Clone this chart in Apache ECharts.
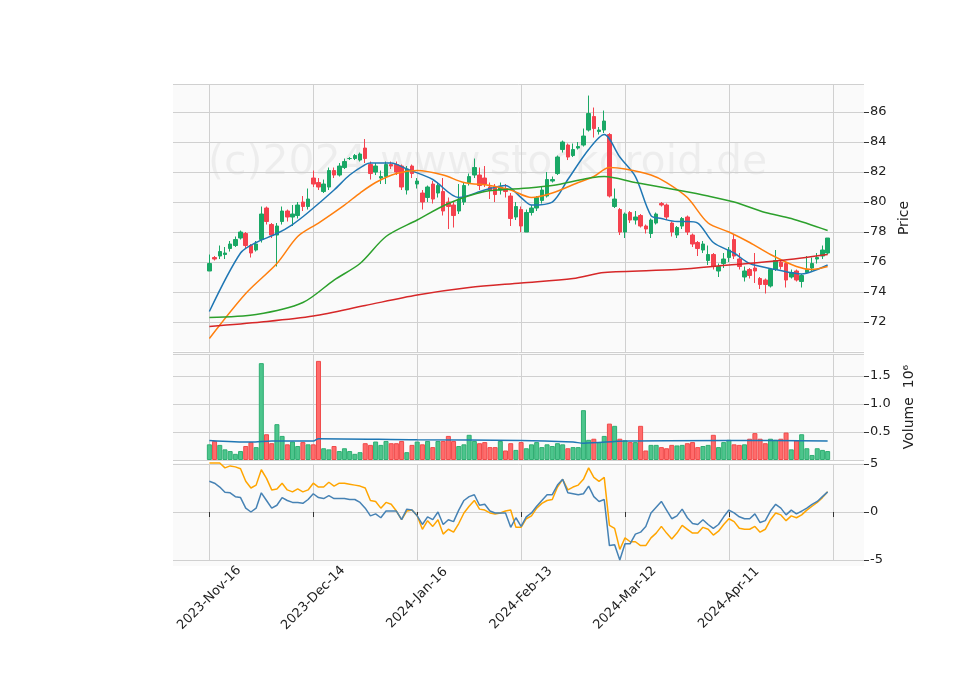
<!DOCTYPE html>
<html>
<head>
<meta charset="utf-8">
<script src="https://cdn.jsdelivr.net/npm/echarts@6/dist/echarts.min.js"></script>
<style>html,body{margin:0;padding:0;background:#fff}#chart{width:960px;height:690px}</style>
</head>
<body>
<div id="chart"></div>
<script>
// daily bars, index 0 = 2023-Nov-16
var opens = [75.4,76.3,76.4,76.5,76.9,77.1,77.6,77.9,77.1,76.8,77.5,79.6,78.5,77.8,78.7,79.4,79.0,79.1,80.0,79.7,
  81.6,81.3,80.7,81.0,82.1,81.8,82.3,82.9,82.9,82.8,83.6,82.5,82.0,81.6,81.7,82.5,82.5,82.4,80.8,82.4,
  81.2,80.6,80.3,81.2,80.6,80.7,80.0,79.8,79.4,80.0,81.3,81.8,81.8,81.6,81.0,81.0,80.8,80.9,80.4,79.0,
  79.5,78.0,79.3,79.6,80.1,80.4,81.4,81.9,83.5,83.8,83.1,83.6,83.8,84.8,85.7,84.7,84.8,84.5,79.7,79.5,
  78.0,79.3,78.8,79.1,78.4,77.9,78.6,79.9,79.8,78.6,77.8,78.4,79.0,77.8,77.3,76.8,76.1,76.5,75.4,75.9,
  76.3,77.5,76.2,75.0,75.5,75.6,74.9,74.8,74.4,75.5,76.0,75.9,75.0,75.4,74.7,75.3,75.6,76.2,76.4,76.6];
var closes = [75.9,76.2,76.7,76.6,77.2,77.5,78.0,77.1,76.6,77.2,79.2,78.7,77.8,78.4,79.4,79.0,79.2,79.8,79.7,80.2,
  81.2,81.0,81.2,82.1,81.8,82.4,82.7,82.9,83.1,83.2,82.9,81.9,82.4,81.7,82.5,82.4,82.0,81.0,82.2,81.9,
  81.4,80.0,81.0,80.2,81.1,79.4,79.7,79.1,80.2,81.1,81.7,82.3,81.1,81.2,80.8,80.5,81.0,80.7,78.9,79.7,
  78.4,79.3,79.6,80.3,80.8,81.5,81.5,83.0,84.0,83.0,83.5,83.7,84.4,85.9,84.9,84.8,85.4,80.4,80.2,78.0,
  79.2,78.8,79.0,78.4,78.2,78.8,79.2,79.8,79.0,78.0,78.3,78.9,78.0,77.2,76.9,77.2,76.5,75.7,75.7,76.2,
  76.8,76.4,75.7,75.4,75.1,75.4,74.5,74.5,75.5,76.1,75.7,74.8,75.3,74.8,75.1,75.5,75.9,76.3,76.8,77.6];
var highs = [76.5,76.4,77.1,77.0,77.4,77.7,78.1,78.0,77.2,77.4,79.7,79.7,78.6,78.6,79.7,79.5,79.8,80.0,80.4,80.9,
  82.1,81.6,81.5,82.3,82.3,82.6,82.9,83.0,83.2,83.3,84.2,82.7,82.6,82.1,82.7,82.7,82.7,82.5,82.4,82.5,
  81.6,80.8,81.1,81.4,81.3,81.6,80.3,80.0,81.2,81.3,81.9,82.9,82.3,82.4,81.3,81.2,81.3,81.2,80.6,80.0,
  79.7,79.5,79.8,80.4,81.0,82.0,81.7,83.1,84.1,83.9,83.9,84.0,84.9,87.1,86.3,85.0,86.1,84.6,80.9,79.6,
  79.3,79.4,79.4,79.2,78.5,78.9,79.3,80.0,79.9,78.7,78.4,79.0,79.1,77.9,77.4,77.4,77.1,76.6,75.9,76.6,
  77.0,77.8,76.6,75.7,75.6,76.6,75.0,74.9,75.6,76.8,76.1,76.0,75.5,75.5,75.2,76.4,76.3,76.6,77.1,77.6];
var lows = [75.4,76.1,76.2,76.2,76.7,77.0,77.5,76.9,76.3,76.7,77.3,78.5,77.6,75.7,78.5,78.7,78.4,78.9,79.4,79.5,
  81.0,80.8,80.6,80.8,81.6,81.7,82.2,82.8,82.8,82.7,82.6,81.5,81.8,81.2,81.2,82.2,81.8,80.8,80.5,81.6,
  80.9,79.5,80.0,79.9,80.3,79.1,78.2,78.3,79.2,79.8,81.1,81.6,80.8,81.0,80.2,80.0,80.5,80.3,78.4,78.8,
  78.0,78.0,79.1,79.4,79.9,80.3,81.3,81.8,83.3,82.8,83.0,83.5,83.7,84.7,84.3,84.5,84.6,80.3,79.6,77.8,
  77.6,78.6,78.5,78.3,77.9,77.6,78.5,79.7,78.8,77.7,77.6,78.2,77.8,77.0,76.4,76.6,75.8,75.5,75.0,75.6,
  76.0,76.2,75.5,74.7,74.9,74.6,74.2,73.9,74.3,75.4,75.5,74.3,74.9,74.7,74.3,75.2,75.4,75.9,76.2,76.5];
var volumes = [0.28,0.34,0.27,0.19,0.16,0.11,0.16,0.25,0.32,0.23,1.73,0.46,0.30,0.64,0.43,0.28,0.33,0.25,0.32,0.28,
  0.28,1.77,0.21,0.19,0.25,0.16,0.21,0.16,0.11,0.14,0.30,0.27,0.33,0.27,0.34,0.30,0.30,0.34,0.14,0.27,
  0.33,0.28,0.34,0.23,0.34,0.34,0.43,0.34,0.25,0.28,0.45,0.34,0.30,0.32,0.23,0.23,0.34,0.17,0.30,0.18,
  0.32,0.21,0.28,0.32,0.23,0.28,0.25,0.30,0.28,0.21,0.23,0.23,0.89,0.36,0.38,0.32,0.43,0.65,0.61,0.38,
  0.35,0.32,0.32,0.61,0.17,0.27,0.27,0.23,0.21,0.27,0.26,0.27,0.30,0.32,0.23,0.25,0.27,0.45,0.23,0.32,
  0.36,0.28,0.27,0.28,0.38,0.48,0.38,0.30,0.38,0.36,0.38,0.49,0.19,0.35,0.46,0.21,0.09,0.21,0.18,0.16];
// moving averages, read at sample points [bar index, value]
var maShort = [[0,72.7],[6,76.6],[9,77.3],[13,77.9],[16,78.5],[19,79.3],[24,80.8],[26.5,81.8],[30,82.5],[31,82.6],[35,82.6],
  [37.7,82.2],[43,81.5],[48,80.3],[52.5,80.8],[57,81.1],[60,80.3],[62,79.8],[66,80.0],[69.4,81.5],[73,83.5],[76,84.5],
  [79,83.0],[81.5,81.7],[84.8,79.1],[87.3,78.9],[89.6,78.7],[91.5,78.7],[94,78.6],[97.3,77.3],[100.6,76.6],[104.4,75.9],
  [109,75.5],[114,75.2],[116.5,75.5],[119,75.8]];
var maMid = [[0,70.9],[6.5,73.9],[13,75.9],[17,77.7],[20.7,78.6],[25.8,79.8],[29,80.6],[32,81.3],[36.3,81.9],[40,82.1],
  [44.8,81.8],[48.7,81.3],[53.7,81.1],[58,80.8],[61.7,80.3],[66,80.6],[70.7,81.3],[74,81.7],[76.5,82.3],[80,82.2],
  [84.8,81.8],[88,81.3],[91.5,80.3],[96,78.6],[99.8,78.0],[104.4,77.3],[108.3,76.5],[113.3,75.7],[116,75.5],[119,75.7]];
var maLong = [[0,72.3],[9,72.5],[17.5,73.3],[24,74.8],[29,75.9],[34.4,77.7],[40,78.8],[46,79.9],[53,80.7],[60,80.9],
  [66,81.1],[75.8,81.7],[82.3,81.3],[89.6,80.8],[96,80.4],[100.6,80.0],[107,79.3],[112,78.9],[119,78.1]];
var maLonger = [[0,71.7],[10,72.0],[20,72.4],[30,73.1],[40,73.8],[50,74.3],[60,74.6],[70,74.9],[76,75.3],[89.6,75.5],
  [100,75.8],[110,76.1],[119,76.5]];
var volMa = [[0,0.35],[8,0.32],[12,0.34],[20,0.34],[21,0.38],[40,0.36],[60,0.35],[70,0.32],[72,0.30],[80,0.34],[100,0.35],[119,0.34]];
var oscBlue = [3.2,3.0,2.6,2.05,2.0,1.6,1.5,0.4,0.0,0.4,2.0,1.2,0.4,0.7,1.5,1.2,1.0,1.0,0.9,1.3,
  1.9,1.5,1.4,1.7,1.4,1.4,1.4,1.3,1.3,1.0,0.4,-0.4,-0.2,-0.6,0.1,0.1,0.1,-0.8,0.3,0.2,
  -0.4,-1.3,-0.5,-0.8,0.0,-1.3,-0.8,-1.0,0.2,1.2,1.6,1.8,0.7,0.8,0.1,-0.1,-0.1,-0.1,-1.6,-0.6,
  -1.5,-0.5,-0.1,0.6,1.2,1.8,1.8,2.8,3.4,2.0,1.9,1.8,1.9,2.7,1.6,1.1,1.3,-3.5,-3.4,-5.0,
  -3.3,-3.3,-2.3,-2.1,-1.5,-0.1,0.5,1.1,0.2,-0.7,-0.4,0.3,-0.6,-1.2,-1.3,-0.8,-1.3,-1.7,-1.3,-0.5,
  0.2,-0.1,-0.5,-0.7,-0.7,-0.2,-1.1,-0.9,0.1,0.8,0.4,-0.3,0.2,-0.2,0.1,0.4,0.8,1.1,1.6,2.1];
var oscOrange = [5.1,5.1,5.1,4.6,4.8,4.7,4.5,3.2,2.5,2.8,4.4,3.5,2.3,2.4,3.0,2.3,2.1,2.4,2.1,2.3,
  3.0,2.6,2.6,3.1,2.7,3.0,3.0,2.9,2.8,2.7,2.5,1.2,1.1,0.4,1.0,0.8,0.1,-0.8,0.1,0.2,
  -0.4,-1.8,-0.9,-1.5,-0.8,-2.3,-1.8,-2.1,-1.2,-0.1,0.6,1.2,0.3,0.2,-0.1,-0.2,-0.1,0.1,0.2,-1.6,
  -1.6,-0.7,-0.4,0.4,0.9,1.2,1.3,2.6,3.4,2.3,2.6,2.8,3.4,4.6,3.6,3.2,3.6,-1.4,-1.7,-3.9,
  -2.7,-3.1,-3.1,-3.5,-3.5,-2.7,-2.2,-1.5,-2.2,-2.8,-2.2,-1.4,-1.8,-2.2,-2.2,-1.6,-1.8,-2.4,-2.0,-1.3,
  -0.7,-1.0,-1.7,-1.8,-1.8,-1.5,-2.1,-1.8,-0.8,-0.1,-0.3,-0.9,-0.4,-0.6,-0.3,0.2,0.6,1.0,1.5,2.1];
var tickLabels = ['2023-Nov-16','2023-Dec-14','2024-Jan-16','2024-Feb-13','2024-Mar-12','2024-Apr-11',''];

var PAD = 7, N = closes.length, TOTAL = N + 2 * PAD;
var cats = [];
for (var i = 0; i < TOTAL; i++) {
    var k = i - PAD;
    cats.push(k >= 0 && k % 20 === 0 ? (tickLabels[k / 20] || '') : '');
}
function isTick(idx) { var k = idx - PAD; return k >= 0 && k % 20 === 0 && k / 20 < tickLabels.length; }

var UP = '#1aa866', DOWN = '#f5424e', VUP = '#4cc58c', VDOWN = '#ff6b6b';
var candles = [], vols = [], oB = [], oO = [];
for (var i = 0; i < PAD; i++) { candles.push('-'); vols.push('-'); }
for (var i = 0; i < N; i++) {
    candles.push([opens[i], closes[i], lows[i], highs[i]]);
    var up = closes[i] >= opens[i];
    vols.push({value: volumes[i], itemStyle: {color: up ? VUP : VDOWN, borderColor: up ? '#2fae72' : '#f04a4a', borderWidth: 1}});
    oB.push([i + PAD, oscBlue[i]]);
    oO.push([i + PAD, oscOrange[i]]);
}
function shift(arr) { return arr.map(function (p) { return [p[0] + PAD, p[1]]; }); }

var chart = echarts.init(document.getElementById('chart'));
var L = 173, R = 96;
var gridLine = {show: true, lineStyle: {color: '#d0d0d0', width: 1}};
var xBase = {
    type: 'category', data: cats, boundaryGap: false,
    axisLine: {show: false}, axisTick: {show: false}, axisLabel: {show: false},
    splitLine: {show: true, interval: function (i) { return isTick(i); }, lineStyle: {color: '#d0d0d0'}}
};
var yBase = {
    position: 'right', axisLine: {show: false},
    axisTick: {show: true, length: 5, lineStyle: {color: '#333'}},
    axisLabel: {color: '#222', fontSize: 13, fontFamily: 'DejaVu Sans', margin: 6, showMinLabel: false, showMaxLabel: false},
    splitLine: gridLine,
    nameLocation: 'middle', nameRotate: 90,
    nameTextStyle: {color: '#222', fontSize: 14, fontFamily: 'DejaVu Sans'}
};

chart.setOption({
    animation: false,
    backgroundColor: '#fff',
    graphic: [
        {type: 'rect', z: -10, shape: {x: L, y: 84, width: 691, height: 267}, style: {fill: '#fafafa'}},
        {type: 'rect', z: -10, shape: {x: L, y: 353, width: 691, height: 108}, style: {fill: '#fafafa'}},
        {type: 'rect', z: -10, shape: {x: L, y: 463, width: 691, height: 103}, style: {fill: '#fafafa'}},
        {type: 'text', z: -5, left: 208, top: 143, style: {text: '(c)2024 www.stockdroid.de', fill: 'rgba(0,0,0,0.05)', font: '41px DejaVu Sans'}}
    ],
    grid: [
        {left: L, right: R, top: 84, height: 268},
        {left: L, right: R, top: 354, height: 106},
        {left: L, right: R, top: 464, height: 96}
    ],
    xAxis: [
        Object.assign({gridIndex: 0}, xBase),
        Object.assign({gridIndex: 1}, xBase),
        Object.assign({}, xBase, {
            gridIndex: 2, offset: 6,
            axisTick: {show: true, length: 5, interval: function (i) { return isTick(i); }, lineStyle: {color: '#333'}},
            axisLabel: {show: true, interval: function (i) { return isTick(i); }, rotate: 45, color: '#222',
                fontSize: 13, fontFamily: 'DejaVu Sans', margin: 32, align: 'center', verticalAlign: 'middle'}
        })
    ],
    yAxis: [
        Object.assign({}, yBase, {gridIndex: 0, min: 70, max: 87.87, interval: 2, name: 'Price', nameGap: 32}),
        Object.assign({}, yBase, {gridIndex: 1, min: 0, max: 1.893, interval: 0.5, name: 'Volume  10\u2076', nameGap: 38,
            axisLabel: Object.assign({}, yBase.axisLabel, {formatter: function (v) { return v.toFixed(1); }})}),
        Object.assign({}, yBase, {gridIndex: 2, min: -5, max: 5, interval: 5,
            axisLabel: Object.assign({}, yBase.axisLabel, {showMinLabel: true, showMaxLabel: true})})
    ],
    series: [
        {type: 'candlestick', xAxisIndex: 0, yAxisIndex: 0, data: candles, barWidth: 4, clip: false,
            itemStyle: {color: UP, color0: DOWN, borderColor: UP, borderColor0: DOWN, borderWidth: 1}},
        {type: 'line', xAxisIndex: 0, yAxisIndex: 0, data: shift(maShort), showSymbol: false, smooth: 0.3, lineStyle: {color: '#1f77b4', width: 1.5}},
        {type: 'line', xAxisIndex: 0, yAxisIndex: 0, data: shift(maMid), showSymbol: false, smooth: 0.3, lineStyle: {color: '#ff7f0e', width: 1.5}},
        {type: 'line', xAxisIndex: 0, yAxisIndex: 0, data: shift(maLong), showSymbol: false, smooth: 0.3, lineStyle: {color: '#2ca02c', width: 1.5}},
        {type: 'line', xAxisIndex: 0, yAxisIndex: 0, data: shift(maLonger), showSymbol: false, smooth: 0.3, lineStyle: {color: '#d62728', width: 1.5}},
        {type: 'bar', xAxisIndex: 1, yAxisIndex: 1, data: vols, barWidth: 5, barGap: '0%'},
        {type: 'line', xAxisIndex: 1, yAxisIndex: 1, data: shift(volMa), showSymbol: false, smooth: 0.3, lineStyle: {color: '#1f77b4', width: 1.5}},
        {type: 'line', xAxisIndex: 2, yAxisIndex: 2, data: oO, showSymbol: false, clip: false, lineStyle: {color: '#ffa500', width: 1.5}},
        {type: 'line', xAxisIndex: 2, yAxisIndex: 2, data: oB, showSymbol: false, clip: false, lineStyle: {color: '#4682b4', width: 1.5}}
    ]
});
</script>
</body>
</html>
